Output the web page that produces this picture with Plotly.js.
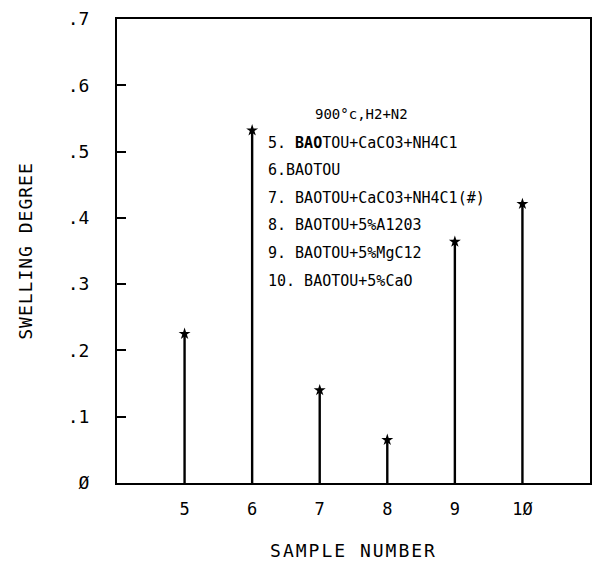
<!DOCTYPE html>
<html>
<head>
<meta charset="utf-8">
<script src="https://cdn.plot.ly/plotly-3.0.1.min.js"></script>
<style>
html,body{margin:0;padding:0;background:#fff;}
#chart{width:597px;height:561px;}
</style>
</head>
<body>
<div id="chart"></div>
<script>
// ---- data ----
const samples = [5, 6, 7, 8, 9, 10];
const swelling = [0.225, 0.532, 0.140, 0.065, 0.364, 0.421];
const xTickVals = [5, 6, 7, 8, 9, 10];
const xTickText = ["5", "6", "7", "8", "9", "1Ø"];
const yTickVals = [0, 0.1, 0.2, 0.3, 0.4, 0.5, 0.6, 0.7];
const yTickText = ["Ø", ".1", ".2", ".3", ".4", ".5", ".6", ".7"];
const noteTitle = "900°c,H2+N2";
const noteLines = [
  "5. <b>BAO</b>TOU+CaCO3+NH4C1",
  "6.BAOTOU",
  "7. BAOTOU+CaCO3+NH4C1(#)",
  "8. BAOTOU+5%A1203",
  "9. BAOTOU+5%MgC12",
  "10. BAOTOU+5%CaO"
];

// ---- build stems ----
const stemX = [], stemY = [];
samples.forEach((s, i) => { stemX.push(s, s, null); stemY.push(0, swelling[i], null); });

const FONT = "DejaVu Sans Mono";

const traces = [
  {x: stemX, y: stemY, mode: "lines", line: {color: "#000", width: 2.4}, hoverinfo: "skip", showlegend: false},
  {x: samples, y: swelling, mode: "markers", marker: {symbol: "star", size: 9, color: "#000"}, showlegend: false}
];

const annotations = [];
annotations.push({xref: "x", yref: "y", x: 6.9, y: 0.557, text: noteTitle, showarrow: false,
  xanchor: "left", yanchor: "middle", font: {family: FONT, size: 14, color: "#000"}});
noteLines.forEach((t, i) => {
  annotations.push({xref: "x", yref: "y", x: 6.2, y: 0.513 - i * 0.0415, text: t, showarrow: false,
    xanchor: "left", yanchor: "middle", font: {family: FONT, size: 15, color: "#000"}});
});

const layout = {
  width: 597, height: 561,
  margin: {l: 117, r: 7, t: 19, b: 78},
  paper_bgcolor: "#fff", plot_bgcolor: "#fff",
  font: {family: FONT, color: "#000"},
  showlegend: false,
  xaxis: {
    range: [4, 11], showgrid: false, zeroline: false,
    showline: true, linecolor: "#000", linewidth: 2, mirror: true,
    tickvals: xTickVals, ticktext: xTickText, ticks: "", ticklen: 0,
    ticklabelstandoff: 10,
    tickfont: {family: FONT, size: 17, color: "#000"},
    title: {text: '<span style="letter-spacing:2px">SAMPLE NUMBER</span>', font: {family: FONT, size: 18, color: "#000"}, standoff: 28}
  },
  yaxis: {
    range: [0, 0.7], showgrid: false, zeroline: false,
    showline: true, linecolor: "#000", linewidth: 2, mirror: true,
    tickvals: yTickVals, ticktext: yTickText, ticks: "inside", ticklen: 9, tickwidth: 2, tickcolor: "#000",
    ticklabelstandoff: 22,
    tickfont: {family: FONT, size: 18, color: "#000"},
    title: {text: '<span style="letter-spacing:1px">SWELLING DEGREE</span>', font: {family: FONT, size: 18, color: "#000"}, standoff: 30}
  },
  annotations: annotations
};

Plotly.newPlot("chart", traces, layout, {staticPlot: true, displayModeBar: false});
</script>
</body>
</html>
